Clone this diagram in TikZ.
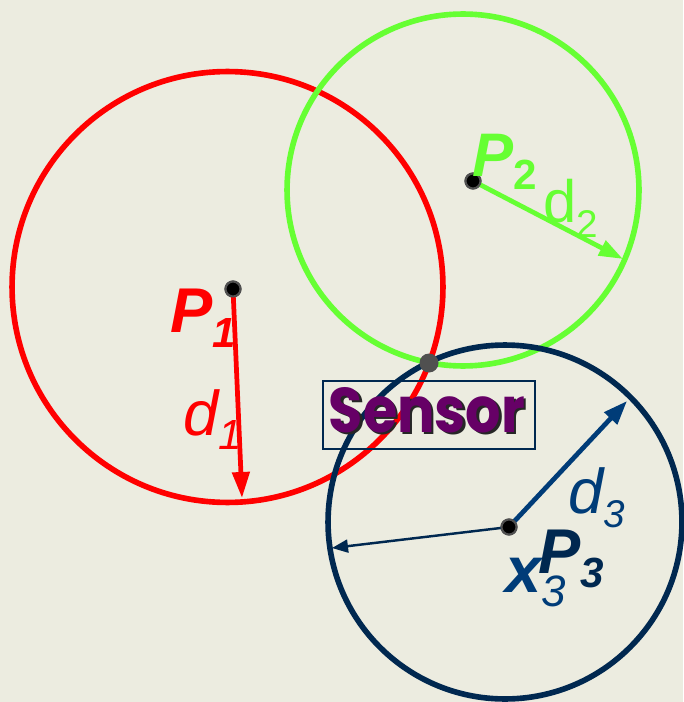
\documentclass[tikz,border=0pt]{standalone}
\usepackage{fontspec}
\setmainfont{Liberation Sans}
\newfontfamily\sensorfont{Poppins}
\usetikzlibrary{arrows.meta}

\definecolor{paper}{RGB}{236,236,224}
\definecolor{anchor1}{RGB}{255,0,0}
\definecolor{anchor2}{RGB}{102,255,51}
\definecolor{anchor3}{RGB}{0,40,80}
\definecolor{range3}{RGB}{0,60,120}
\definecolor{sensorpurple}{RGB}{102,0,102}
\definecolor{dotgray}{RGB}{80,80,80}

\newcommand{\sz}[1]{\fontsize{#1}{#1}\selectfont}

\tikzset{
  ring/.style={line width=3.2pt},
  rangearrow/.style={line width=2.7pt, -{Triangle[length=0.52cm, width=0.34cm]}},
  anchordot/.style={circle, fill=black, draw=dotgray, line width=1.2pt,
    inner sep=0pt, minimum size=0.3cm},
  lbl/.style={anchor=base west, inner sep=0pt}
}

\begin{document}
\begin{tikzpicture}[x=0.02cm, y=-0.02cm]

  \fill[paper] (0,0) rectangle (683,702);
  \useasboundingbox (0,0) rectangle (683,702);

  % -- range circles --
  \coordinate (c1) at (227.5,287);
  \coordinate (c2) at (463,190);
  \coordinate (c3) at (505,522);
  \draw[ring, anchor1] (c1) circle[radius=4.31cm];
  \draw[ring, anchor2] (c2) circle[radius=3.52cm];
  \draw[ring, anchor3] (c3) circle[radius=3.54cm];

  % -- anchors --
  \node[anchordot] (p1) at (233,289) {};
  \node[anchordot] (p2) at (473,181) {};
  \node[anchordot] (p3) at (509,527) {};

  % -- distances --
  \coordinate (r1) at (242,498);
  \coordinate (r2) at (623,259);
  \coordinate (r3) at (627,401);
  \coordinate (r4) at (332,548);
  \draw[rangearrow, anchor1] (p1.center) -- (r1);
  \draw[rangearrow, anchor2, -{Triangle[length=0.48cm, width=0.32cm]}] (p2.center) -- (r2);
  \draw[rangearrow, range3, -{Triangle[length=0.48cm, width=0.34cm]}] (p3.center) -- (r3);
  \draw[anchor3, line width=1.4pt, -{Triangle[length=0.32cm, width=0.26cm]}] (p3.center) -- (r4);
  \node[anchordot] at (p1) {};
  \node[anchordot] at (p2) {};
  \node[anchordot] at (p3) {};

  % -- labels --
  \node[lbl, anchor1, font=\sz{36}\bfseries\itshape] (p1lbl) at (170,332)
    {P\raisebox{-9pt}{\sz{24}1}};
  \node[lbl, anchor1, font=\sz{36}\itshape] (d1lbl) at (183,435)
    {d\raisebox{-8.5pt}{\sz{24}1}};
  \node[lbl, anchor2, font=\sz{35}\bfseries\itshape] (p2lbl) at (472,177)
    {P\raisebox{-7.4pt}{\sz{24}\upshape 2}};
  \node[lbl, anchor2, font=\sz{34}] (d2lbl) at (543,223)
    {d\raisebox{-8.5pt}{\sz{22}2}};
  \node[lbl, range3, font=\sz{36}\itshape] (d3lbl) at (568,513)
    {d\raisebox{-8.5pt}{\sz{22}3}};
  \node[lbl, range3, font=\sz{37}\bfseries\itshape] (x3lbl) at (505,592)
    {x\raisebox{-8.5pt}{\sz{25}\mdseries 3}};
  \node[lbl, anchor3, font=\sz{36}\bfseries\itshape] (p3lbl) at (538,573)
    {P\raisebox{-8.5pt}{\sz{24}3}};

  % -- sensor --
  \node[draw=anchor3, line width=1.3pt, minimum width=4.24cm, minimum height=1.36cm,
        inner sep=0pt] (sensorbox) at (429,415) {};
  \node[font=\sensorfont\bfseries\sz{36}, black!85, inner sep=0pt, xscale=0.88]
    (sensorshadow) at (429.5,412.5) {Sensor};
  \node[font=\sensorfont\bfseries\sz{36}, sensorpurple, inner sep=0pt, xscale=0.88]
    (sensor) at (427,410) {Sensor};
  \node[circle, fill=dotgray, inner sep=0pt, minimum size=0.38cm] (fix) at (429,363) {};

\end{tikzpicture}
\end{document}
